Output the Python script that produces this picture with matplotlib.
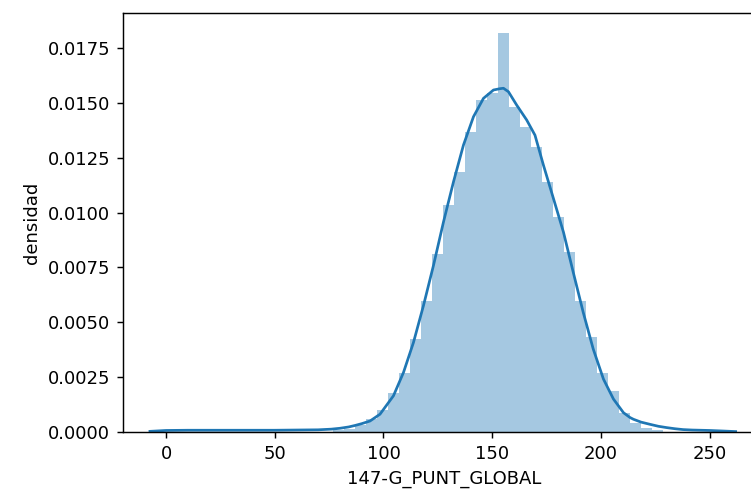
import matplotlib
matplotlib.use("Agg")
import numpy as np
import matplotlib.pyplot as plt

# bordes de los bins del histograma (ancho ~5.06)
bordes = [76.70, 81.76, 86.82, 91.88, 96.94, 102.00, 107.06, 112.12, 117.18,
          122.24, 127.30, 132.36, 137.42, 142.48, 147.54, 152.60, 157.66,
          162.72, 167.78, 172.84, 177.90, 182.96, 188.02, 193.08, 198.14,
          203.20, 208.26, 213.32, 218.38, 223.44, 228.50]
densidad_hist = [0.00007, 0.00015, 0.0003, 0.0006, 0.00102, 0.0018, 0.00271,
                 0.00424, 0.00599, 0.00812, 0.01033, 0.01186, 0.01369, 0.01513,
                 0.01544, 0.01820, 0.01483, 0.01391, 0.01300, 0.01140, 0.00980,
                 0.00820, 0.00599, 0.00431, 0.00271, 0.00187, 0.00088, 0.0004,
                 0.0002, 0.0001]

# curva kde
kde_x = [-7.4, 0, 10, 20, 30, 40, 50, 60, 70, 76, 80, 84, 87, 90, 93.8, 98.4,
         104.6, 109.2, 113.8, 118.4, 123.0, 127.6, 132.2, 136.8, 141.4, 146.0,
         150.6, 153.6, 155.2, 157.5, 161.3, 165.9, 169.7, 173.6, 178.2, 182.8,
         187.3, 191.9, 196.5, 201.2, 205.8, 210.4, 213.4, 215.0, 218.5, 222.6,
         226.5, 230.3, 234.0, 237.8, 242, 246, 250, 255, 262]
kde_y = [0.00003, 0.00007, 0.00008, 0.00008, 0.00008, 0.00008, 0.00008,
         0.00009, 0.0001, 0.00013, 0.00017, 0.00023, 0.0003, 0.00038, 0.0005,
         0.00081, 0.00165, 0.00271, 0.00408, 0.00576, 0.00759, 0.00957, 0.0114,
         0.01308, 0.01437, 0.01521, 0.01559, 0.01565, 0.01567, 0.01551, 0.0149,
         0.01422, 0.01353, 0.01216, 0.01064, 0.00911, 0.00728, 0.00545, 0.00378,
         0.00241, 0.0015, 0.00088, 0.00066, 0.00058, 0.00045, 0.00035, 0.00026,
         0.0002, 0.00015, 0.00011, 0.00009, 0.00008, 0.00007, 0.00005, 0.00002]

fig = plt.figure(figsize=(751/130, 495/130), dpi=130)
ax = fig.add_axes([123/751, 63/495, 642/751, 419/495])

ax.bar(bordes[:-1], densidad_hist, width=np.diff(bordes), align='edge',
       color='C0', alpha=0.4, linewidth=0)
ax.plot(kde_x, kde_y, color='C0', lw=1.5)

ax.set_xlim(-19.8, 275.5)
ax.set_ylim(0, 0.0191)
ax.set_xticks([0, 50, 100, 150, 200, 250])
ax.set_yticks(np.arange(0, 0.0176, 0.0025))
ax.yaxis.set_major_formatter(matplotlib.ticker.FormatStrFormatter('%.4f'))
ax.set_xlabel('147-G_PUNT_GLOBAL')
ax.set_ylabel('densidad')

fig.savefig('out.png', dpi=130)
